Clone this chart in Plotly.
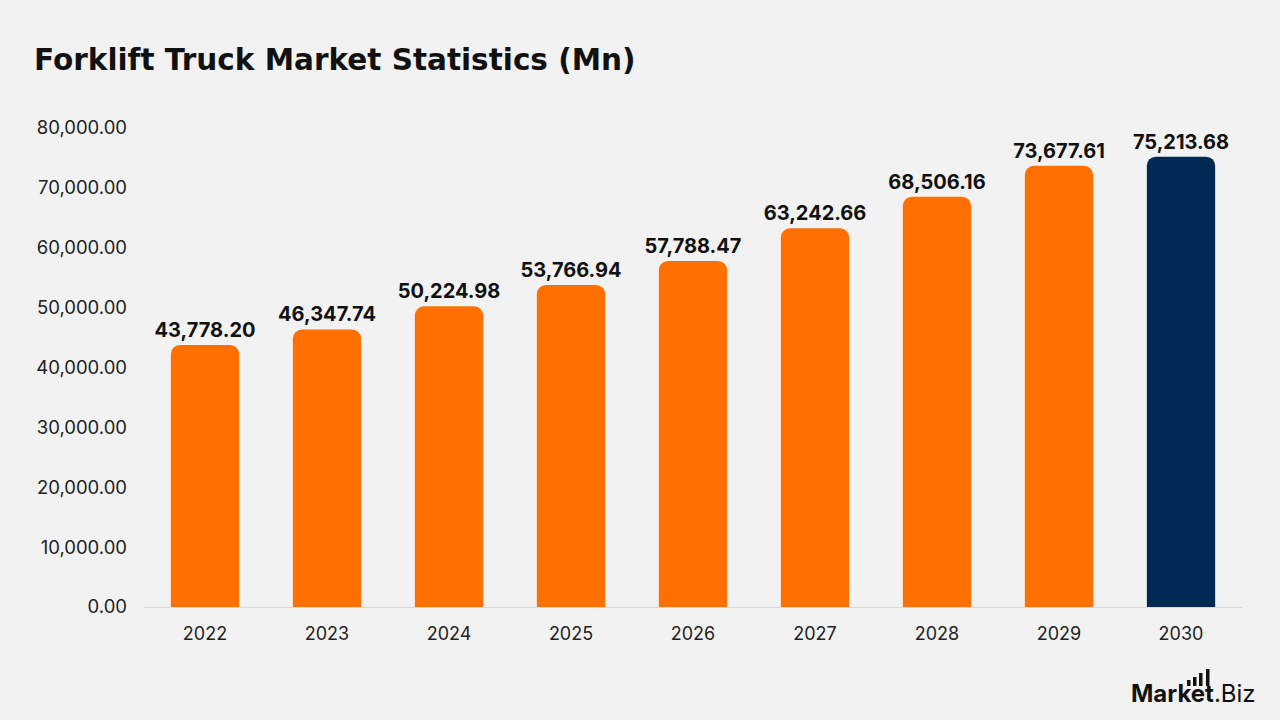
import plotly.graph_objects as go

years = ["2022", "2023", "2024", "2025", "2026", "2027", "2028", "2029", "2030"]
values = [43778.20, 46347.74, 50224.98, 53766.94, 57788.47, 63242.66, 68506.16, 73677.61, 75213.68]
colors = ["#FF7000"] * 8 + ["#002A54"]
labels = [f"{v:,.2f}" for v in values]

FONT = "Inter, Open Sans, sans-serif"

fig = go.Figure(go.Bar(
    x=years, y=values, marker=dict(color=colors, line=dict(width=0), cornerradius=9),
    text=labels, textposition="outside", cliponaxis=False, constraintext="none",
    textfont=dict(family=FONT, size=20, color="#111111", weight="bold"),
    width=0.56,
))

fig.update_layout(
    width=1280, height=720,
    paper_bgcolor="#F2F2F2", plot_bgcolor="#F2F2F2",
    margin=dict(l=144, r=38, t=128, b=113),
    showlegend=False,
    font=dict(family=FONT, color="#222222"),
    title=dict(text="<b>Forklift Truck Market Statistics (Mn)</b>", x=34/1280, xanchor="left",
               y=1-60/720, yanchor="middle",
               font=dict(size=29.5, color="#111111", family="DejaVu Sans, sans-serif")),
    xaxis=dict(showgrid=False, showline=True, linecolor="#D9D9D9", linewidth=1,
               tickfont=dict(size=18, color="#222222"), ticks="", ticklabelstandoff=10),
    yaxis=dict(range=[0, 80000], dtick=10000, tickformat=",.2f", showgrid=False, zeroline=False,
               showline=False, tickfont=dict(size=18.5, color="#222222"), ticks="", ticklabelstandoff=16),
)

def px(xp):
    return (xp - 144) / 1098

def py(yp):
    return (607 - yp) / 479

# Logo
fig.add_annotation(xref="paper", yref="paper", x=px(1258), y=py(693), xanchor="right", yanchor="middle",
                   text="<b>Market</b>.Biz", showarrow=False,
                   font=dict(size=24, color="#111111", family=FONT))
for x0, top in [(1187, 680), (1193, 677), (1199, 673), (1206, 669)]:
    fig.add_shape(type="rect", xref="paper", yref="paper", x0=px(x0), x1=px(x0 + 3.5),
                  y0=py(686), y1=py(top), fillcolor="#111111", line=dict(width=0))

fig.write_html("out.html")
